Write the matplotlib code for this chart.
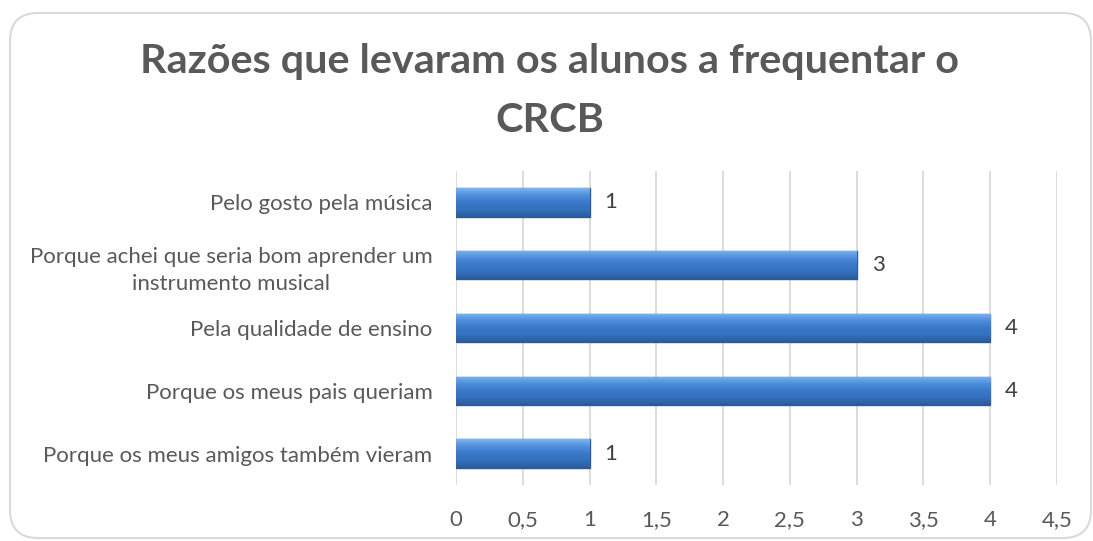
import matplotlib.pyplot as plt
import numpy as np
from matplotlib.patches import FancyBboxPatch
from matplotlib.colors import LinearSegmentedColormap

categories = [
    "Porque os meus amigos também vieram",
    "Porque os meus pais queriam",
    "Pela qualidade de ensino",
    "Porque achei que seria bom aprender um\ninstrumento musical",
    "Pelo gosto pela música",
]
values = [1, 4, 4, 3, 1]
xticks = [0, 0.5, 1, 1.5, 2, 2.5, 3, 3.5, 4, 4.5]
title = "Razões que levaram os alunos a frequentar o\nCRCB"

plt.rcParams["font.family"] = ["Lato", "DejaVu Sans"]
text_col = "#595959"

W, H = 1093, 541
fig = plt.figure(figsize=(W / 100, H / 100), dpi=100)

# background axes in pixel units for the rounded chart border
bg = fig.add_axes([0, 0, 1, 1], zorder=-1)
bg.set_xlim(0, W)
bg.set_ylim(H, 0)
bg.axis("off")
bg.add_patch(FancyBboxPatch(
    (10, 13), 1081, 525,
    boxstyle="round,pad=0,rounding_size=28",
    facecolor="white", edgecolor="#d9d9d9", linewidth=1.5,
))

ax = fig.add_axes([456 / W, (541 - 485) / H, 601 / W, 314 / H])
ax.set_facecolor("none")

y = np.arange(len(categories))
bars = ax.barh(y, values, height=0.45, color="#3a78c8", edgecolor="#2b5c95",
               linewidth=1.0, zorder=3)

# vertical gradient to mimic the bevelled bars (light on top)
cmap = LinearSegmentedColormap.from_list(
    "bevel", ["#2a5c9c", "#3470bd", "#3a78c8", "#4f8fdb", "#7fb4ee"])
grad = np.linspace(0, 1, 100).reshape(-1, 1)
for b in bars:
    x0, y0 = b.get_x(), b.get_y()
    im = ax.imshow(grad, cmap=cmap, aspect="auto", zorder=3.5,
                   extent=[x0, x0 + b.get_width(), y0, y0 + b.get_height()],
                   origin="lower")
    im.set_clip_path(b)

for yi, v in zip(y, values):
    ax.text(v + 0.16, yi, str(v), va="center", ha="center", fontsize=16,
            color="#404040")

ax.set_xlim(0, 4.5)
ax.set_ylim(-0.5, len(categories) - 0.5)
ax.set_xticks(xticks)
ax.set_xticklabels([f"{t:g}".replace(".", ",") for t in xticks],
                   fontsize=16, color=text_col)
ax.set_yticks(y)
ax.set_yticklabels(categories, fontsize=16, color=text_col,
                   multialignment="center", linespacing=1.4)
ax.tick_params(length=0)
ax.tick_params(axis="x", pad=18)
ax.tick_params(axis="y", pad=17)
ax.grid(axis="x", color="#d9d9d9", linewidth=1.3, zorder=0)
for s in ax.spines.values():
    s.set_visible(False)

fig.text(0.503, 1 - 91 / H, title, ha="center", va="center", fontsize=29.8,
         fontweight="bold", color=text_col, linespacing=1.7)

fig.savefig("out.png", dpi=100)
